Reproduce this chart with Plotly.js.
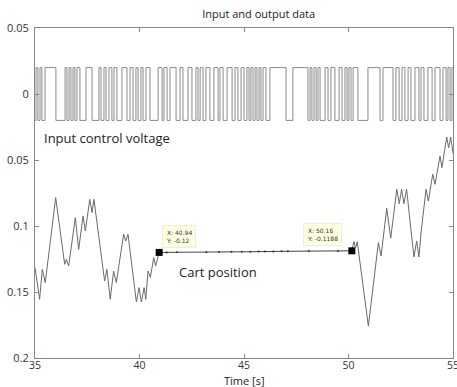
<!DOCTYPE html>
<html>
<head>
<meta charset="utf-8">
<script src="https://cdn.plot.ly/plotly-3.0.1.min.js"></script>
<style>
html,body{margin:0;padding:0;background:#fff;overflow:hidden;}
#chart{width:457px;height:387px;}
</style>
</head>
<body>
<div id="chart"></div>
<script>
// ---- data ----
var inputLevels = [-0.02, 0.02];          // low / high level of the control voltage
var inputStartLevel = -0.02;
var inputSwitchTimes = [35.05,35.14,35.24,35.33,35.48,36.00,36.44,36.53,36.63,36.72,36.82,36.91,37.01,37.15,37.44,37.73,38.06,38.16,38.30,38.40,38.54,38.68,38.78,38.92,39.16,39.40,39.55,39.69,39.83,39.93,40.07,40.17,40.31,40.50,40.89,41.08,41.17,41.32,41.46,41.75,41.94,42.08,42.32,42.51,42.70,42.80,42.90,43.04,43.18,43.37,43.56,43.76,43.85,44.00,44.19,44.43,44.57,44.71,44.86,45.00,45.14,45.24,45.33,45.43,45.53,45.62,45.72,45.81,45.91,46.05,46.24,47.01,47.34,48.06,48.16,48.25,48.35,48.45,48.54,48.64,48.88,49.02,49.16,49.35,49.55,49.69,49.83,49.93,50.02,50.12,50.22,50.45,50.93,51.51,51.65,52.13,52.27,52.42,52.56,52.70,52.85,52.99,53.18,53.37,53.47,53.61,53.80,54.00,54.14,54.38,54.52,54.67,54.76,54.86,54.95];

var cartTimeLeft = [35.00,35.22,35.35,35.49,35.99,36.42,36.50,36.61,36.93,37.09,37.30,37.41,37.62,37.73,37.82,38.33,38.44,38.60,38.76,38.89,39.24,39.34,39.45,39.85,39.98,40.09,40.22,40.30,40.41,40.52,40.68,40.77,40.94];
var cartPosLeft  = [-0.1316,-0.1555,-0.1328,-0.1429,-0.0785,-0.1290,-0.1252,-0.1303,-0.0937,-0.1177,-0.0924,-0.1038,-0.0798,-0.0899,-0.0798,-0.1417,-0.1328,-0.1555,-0.1341,-0.1429,-0.1063,-0.1114,-0.1063,-0.1576,-0.1467,-0.1576,-0.1467,-0.1555,-0.1341,-0.1390,-0.1240,-0.1303,-0.1200];

var cartTimeFlat = [40.94,41.30,41.80,43.20,43.80,44.40,44.90,45.30,45.70,46.00,46.40,46.80,47.10,48.10,49.50,50.16];
var cartPosFlat  = [-0.1200,-0.1200,-0.1199,-0.1198,-0.1197,-0.1196,-0.1195,-0.1195,-0.1194,-0.1193,-0.1193,-0.1192,-0.1192,-0.1190,-0.1189,-0.1188];

var cartTimeRight = [50.16,50.26,50.34,50.42,50.95,51.43,51.56,51.83,52.02,52.31,52.43,52.54,52.65,52.78,53.13,53.26,53.37,53.48,53.71,53.82,54.03,54.14,54.38,54.47,54.70,54.79,54.89,55.01];
var cartPosRight  = [-0.1188,-0.1119,-0.1164,-0.1119,-0.1758,-0.1126,-0.1227,-0.0866,-0.1093,-0.0722,-0.0831,-0.0722,-0.0831,-0.0722,-0.1235,-0.1114,-0.1235,-0.1038,-0.0722,-0.0811,-0.0608,-0.0684,-0.0470,-0.0558,-0.0326,-0.0407,-0.0326,-0.0457];

var tipTimes = [40.94, 50.16];
var tipValues = [-0.12, -0.1188];
var tipLabels = ["X: 40.94<br>Y: -0.12", "X: 50.16<br>Y: -0.1188"];

var yTickValues = [0.05, 0, -0.05, -0.1, -0.15, -0.2];
var yTickLabels = ["0.05", "0", "0.05", "0.1", "0.15", "0.2"];
var xTickValues = [35, 40, 45, 50, 55];

// ---- build input step signal ----
var inX = [35], inY = [inputStartLevel];
var lvl = inputStartLevel;
for (var i = 0; i < inputSwitchTimes.length; i++) {
  lvl = (lvl === inputLevels[0]) ? inputLevels[1] : inputLevels[0];
  inX.push(inputSwitchTimes[i]); inY.push(lvl);
}
inX.push(55); inY.push(lvl);

var traces = [
  {x: inX, y: inY, mode: 'lines', line: {shape: 'hv', color: '#8a8a8a', width: 1}, hoverinfo: 'skip'},
  {x: cartTimeLeft, y: cartPosLeft, mode: 'lines', line: {color: '#6a6a6a', width: 1}},
  {x: cartTimeRight, y: cartPosRight, mode: 'lines', line: {color: '#6a6a6a', width: 1}},
  {x: cartTimeFlat, y: cartPosFlat, mode: 'lines+markers', line: {color: '#444', width: 1},
   marker: {symbol: 'circle', size: 2, color: '#333'}},
  {x: tipTimes, y: tipValues, mode: 'markers', marker: {symbol: 'square', size: 7, color: '#000'}}
];

var fontFam = '"Open Sans", "Noto Sans", sans-serif';

var annots = [
  {x: 35.33, y: -0.0333, xref: 'x', yref: 'y', text: 'Input control voltage', showarrow: false,
   xanchor: 'left', yanchor: 'middle', font: {family: fontFam, size: 13, color: '#222'}},
  {x: 41.79, y: -0.1348, xref: 'x', yref: 'y', text: 'Cart position', showarrow: false,
   xanchor: 'left', yanchor: 'middle', font: {family: fontFam, size: 13, color: '#222'}},
  {x: 0.5, xref: 'paper', y: -0.067, yref: 'paper', yanchor: 'middle', xanchor: 'center',
   text: 'Time [s]', showarrow: false, font: {family: fontFam, size: 11, color: '#222'}}
];
var tipBoxX = [41.08, 47.82];
var tipBoxY = [-0.1167, -0.1152];
for (var k = 0; k < tipLabels.length; k++) {
  annots.push({x: tipBoxX[k], y: tipBoxY[k], xref: 'x', yref: 'y', text: tipLabels[k], showarrow: false,
    xanchor: 'left', yanchor: 'bottom', align: 'left',
    bgcolor: '#ffffe1', bordercolor: '#f0f0d8', borderwidth: 1, borderpad: 3,
    font: {family: '"DejaVu Sans", sans-serif', size: 6, color: '#333'}});
}

var layout = {
  width: 457, height: 387,
  margin: {l: 35, r: 4, t: 28, b: 29},
  paper_bgcolor: '#fff', plot_bgcolor: '#fff',
  showlegend: false,
  title: {text: 'Input and output data', x: 0.535, xref: 'paper', xanchor: 'center',
          y: 1 - 14/387, yref: 'container', yanchor: 'middle',
          font: {family: fontFam, size: 11, color: '#222'}},
  xaxis: {range: [35, 55], tickvals: xTickValues, ticks: 'inside', ticklen: 4, tickcolor: '#888',
          showline: true, linecolor: '#888', linewidth: 1, mirror: 'ticks', showgrid: false, zeroline: false,
          ticklabelstandoff: -3,
          ticklabeloverflow: 'allow', tickfont: {family: fontFam, size: 10.5, color: '#333'}},
  yaxis: {range: [-0.2, 0.05], tickvals: yTickValues, ticktext: yTickLabels, ticks: 'inside', ticklen: 4,
          tickcolor: '#888', showline: true, linecolor: '#888', linewidth: 1, mirror: 'ticks',
          showgrid: false, zeroline: false, ticklabeloverflow: 'allow', ticklabelstandoff: 3,
          tickfont: {family: fontFam, size: 11, color: '#333'}},
  annotations: annots
};

Plotly.newPlot('chart', traces, layout, {displayModeBar: false, staticPlot: true});
</script>
</body>
</html>
